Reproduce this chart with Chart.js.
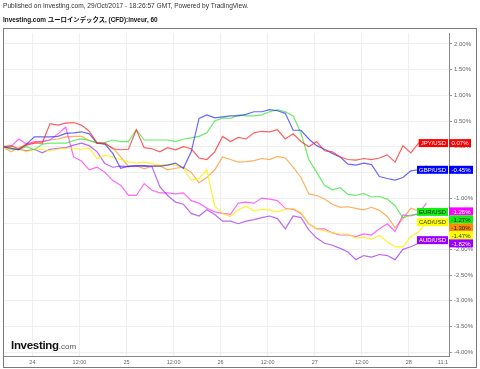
<!DOCTYPE html>
<html><head><meta charset="utf-8">
<script src="https://cdn.jsdelivr.net/npm/chart.js@4/dist/chart.umd.min.js"></script>
<style>
html,body{margin:0;padding:0;background:#fff;width:480px;height:369px;overflow:hidden;}
#wrap{position:relative;width:480px;height:369px;}
canvas{position:absolute;left:0;top:0;}
.t1{position:absolute;left:3px;top:2px;font:6.6px "Liberation Sans",Arial,sans-serif;color:#333;white-space:nowrap;z-index:2;}
.t2{position:absolute;left:3px;top:15px;font:bold 6.4px "Liberation Sans","Noto Sans CJK JP",sans-serif;color:#111;white-space:nowrap;z-index:2;}
.logo{position:absolute;left:11px;top:339px;font:bold 11.5px "Liberation Sans",Arial,sans-serif;color:#111;letter-spacing:-0.3px;z-index:2;white-space:nowrap;}
.logo span{font-weight:normal;font-size:8px;color:#555;letter-spacing:0;}
</style></head>
<body><div id="wrap">
<canvas id="c" width="480" height="369" style="width:480px;height:369px"></canvas>
<div class="t1">Published on Investing.com, 29/Oct/2017 - 18:26:57 GMT, Powered by TradingView.</div>
<div class="t2">Investing.com ユーロインデックス, (CFD):inveur, 60</div>
<div class="logo">Investing<span>.com</span></div>
</div>
<script>
// hours relative to the "24" tick
const hours = [-7.5,-5.5,-3.5,-1.5,0.5,2.5,4.5,6.5,8.5,10.5,12.5,14.5,16.5,18.5,20.5,22.5,24.5,26.5,28.5,30.5,32.5,34.5,36.5,38.5,40.5,42.5,44.5,46.5,48.5,50.5,52.5,54.5,56.5,58.5,60.5,62.5,64.5,66.5,68.5,70.5,72.5,74.5,76.5,78.5,80.5,82.5,84.5,86.5,88.5,90.5,92.5,94.5,96.5,98.5,100.5];

const seriesNames = ['JPY/USD','GBP/USD','EUR/USD','CAD/USD','AUD/USD','',''];

const jpy = [0,0.02,-0.04,0.03,0.07,0.07,0.45,0.42,0.46,0.47,0.42,0.3,0.07,0.07,-0.04,-0.06,-0.05,0.33,-0.02,-0.04,-0.1,-0.02,-0.06,0,-0.04,-0.22,-0.25,-0.1,0.2,0.1,0.18,0.15,0.27,0.3,0.29,0.33,0.15,0.25,0.1,0.0,0.1,-0.08,-0.1,-0.2,-0.25,-0.26,-0.23,-0.25,-0.22,-0.16,-0.3,0.02,-0.12,0.07,0.07];
const gbp = [0,-0.03,-0.06,0.05,0.19,0.19,0.19,0.2,0.26,0.27,0.29,0.25,0.07,0.05,-0.13,-0.42,-0.38,-0.38,-0.37,-0.38,-0.38,-0.36,-0.32,-0.42,-0.1,0.55,0.62,0.56,0.58,0.6,0.6,0.63,0.68,0.68,0.72,0.7,0.65,0.32,0.32,0.15,0.02,-0.05,-0.13,-0.2,-0.34,-0.36,-0.32,-0.35,-0.58,-0.62,-0.65,-0.6,-0.47,-0.45,-0.37];
const eur = [0,-0.05,-0.06,0,-0.06,0.05,0.07,0.07,0.07,0.12,0.15,0.12,0.07,0.08,0.13,0.1,0.1,0.33,0.13,0.13,0.13,0.13,0.1,0.15,0.17,0.2,0.27,0.5,0.56,0.55,0.62,0.6,0.6,0.62,0.68,0.72,0.68,0.6,0.26,-0.25,-0.5,-0.75,-0.84,-0.8,-0.93,-0.95,-0.91,-0.98,-0.97,-1.02,-1.15,-1.39,-1.33,-1.32,-1.27];
const cad = [0,-0.02,-0.05,-0.1,-0.05,-0.05,-0.08,-0.05,-0.03,-0.03,-0.05,-0.03,-0.23,-0.17,-0.2,-0.25,-0.3,-0.32,-0.3,-0.33,-0.36,-0.35,-0.36,-0.42,-0.65,-0.62,-0.45,-1.16,-1.3,-1.36,-1.23,-1.16,-1.25,-1.22,-1.23,-1.27,-1.22,-1.2,-1.28,-1.5,-1.6,-1.64,-1.68,-1.7,-1.7,-1.78,-1.76,-1.8,-1.73,-1.85,-1.95,-1.95,-1.75,-1.66,-1.47];
const aud = [0,-0.03,-0.05,-0.08,-0.05,-0.12,-0.05,-0.03,-0.02,0.03,0.07,0.02,-0.1,-0.33,-0.4,-0.38,-0.39,-0.37,-0.38,-0.39,-0.78,-0.95,-1.08,-1.12,-1.3,-1.35,-1.23,-1.32,-1.45,-1.45,-1.5,-1.45,-1.42,-1.38,-1.35,-1.4,-1.6,-1.35,-1.38,-1.62,-1.78,-1.88,-1.92,-1.98,-2.05,-2.2,-2.12,-2.15,-2.1,-2.12,-2.2,-2.0,-1.95,-1.88,-1.82];
const magenta = [0,0.0,0.15,0.05,0.1,0.1,0.13,0.25,0.38,-0.2,-0.28,-0.45,-0.4,-0.5,-0.66,-0.75,-0.95,-0.95,-0.72,-0.85,-0.9,-0.9,-0.92,-0.9,-1.05,-1.1,-1.2,-1.27,-1.3,-1.32,-1.1,-1.08,-1.1,-1.0,-1.02,-1.05,-1.2,-1.22,-1.3,-1.5,-1.6,-1.6,-1.68,-1.72,-1.72,-1.75,-1.7,-1.72,-1.6,-1.5,-1.65,-1.33,-1.35,-1.3,-1.1];
const orange = [0,-0.1,-0.02,0.05,0.08,0.1,0.13,0.15,0.19,0.2,0.2,0.12,0.08,0.05,-0.02,-0.2,-0.39,-0.37,-0.43,-0.38,-0.37,-0.45,-0.42,-0.4,-0.5,-0.7,-0.6,-0.45,-0.2,-0.25,-0.3,-0.29,-0.27,-0.23,-0.25,-0.19,-0.22,-0.4,-0.6,-0.92,-0.95,-1.02,-1.12,-1.18,-1.17,-1.2,-1.23,-1.18,-1.24,-1.36,-1.58,-1.4,-1.2,-1.25,-1.3];

// last values shown in the right-hand badges
const lastValues = [0.07,-0.45,-1.27,-1.47,-1.82,-1.26,-1.30];

const yTickValues = [2,1.5,1,0.5,0,-0.5,-1,-1.5,-2,-2.5,-3,-3.5,-4];
const xTickValues = [0,12,24,36,48,60,72,84,96,104.7];
const xTickLabels = ['24','12:00','25','12:00','26','12:00','27','12:00','28','11:1'];

const allSeries = [jpy,gbp,eur,cad,aud,magenta,orange];
const lineColors = ['rgba(255,40,40,0.75)','rgba(40,40,255,0.7)','rgba(40,230,40,0.7)','rgba(255,238,0,0.8)','rgba(160,40,240,0.7)','rgba(255,40,255,0.7)','rgba(255,150,40,0.75)'];
const badgeColors = ['#ff0000','#0000ff','#11ee11','#ffff00','#9900ff','#ff00ff','#ff8c00'];
const badgeText = ['#fff','#fff','#222','#333','#fff','#fff','#222'];

const datasets = allSeries.map((arr,i)=>({
  label: seriesNames[i],
  data: arr.map((v,j)=>({x:hours[j],y:v})),
  borderColor: lineColors[i],
  borderWidth: 1.2,
  pointRadius: 0,
  tension: 0,
  fill: false
}));

const fmt = v => v.toFixed(2)+'%';

const overlay = {
  id:'overlay',
  afterDraw(chart){
    const ctx = chart.ctx, ys = chart.scales.y, ca = chart.chartArea;
    ctx.save();
    ctx.strokeStyle = '#7a7a7a'; ctx.lineWidth = 1;
    ctx.beginPath();
    ctx.moveTo(3,28.5); ctx.lineTo(477,28.5);
    ctx.moveTo(3.5,28.5); ctx.lineTo(3.5,367.5);
    ctx.moveTo(3,367.5); ctx.lineTo(477,367.5);
    ctx.moveTo(476.5,28.5); ctx.lineTo(476.5,367.5);
    ctx.stroke();
    ctx.font = '6px "Liberation Sans", Arial, sans-serif';
    ctx.textBaseline = 'middle';
    const h = 8;
    seriesNames.forEach((n,i)=>{
      if(!n) return;
      const y = ys.getPixelForValue(lastValues[i]);
      const w = ctx.measureText(n).width + 4;
      const x1 = ca.right - 1 - w;
      ctx.fillStyle = badgeColors[i];
      ctx.fillRect(x1, y-h/2, w, h);
      ctx.fillStyle = badgeText[i];
      ctx.textAlign = 'left';
      ctx.fillText(n, x1+2, y+0.5);
    });
    const order = lastValues.map((v,i)=>i).sort((a,b)=>lastValues[b]-lastValues[a]);
    let prev = -1e9;
    order.forEach(i=>{
      let y = ys.getPixelForValue(lastValues[i]);
      if (y < prev + h) y = prev + h;
      prev = y;
      const t = fmt(lastValues[i]);
      const w = ctx.measureText(t).width + 5;
      ctx.fillStyle = badgeColors[i];
      ctx.fillRect(ca.right, y-h/2, w, h);
      ctx.fillStyle = badgeText[i];
      ctx.textAlign = 'left';
      ctx.fillText(t, ca.right+2.5, y+0.5);
    });
    ctx.restore();
  }
};

new Chart(document.getElementById('c'), {
  type:'line',
  data:{datasets},
  options:{
    responsive:false, animation:false, devicePixelRatio:1,
    layout:{padding:{left:3,top:33,right:0,bottom:0}},
    plugins:{legend:{display:false}, tooltip:{enabled:false}, title:{display:false}},
    scales:{
      x:{
        type:'linear', min:-7.5, max:106.25,
        afterBuildTicks:s=>{ s.ticks = xTickValues.map(v=>({value:v})); },
        afterFit:s=>{ s.height = 12.3; },
        ticks:{autoSkip:false, maxRotation:0, minRotation:0, padding:2, color:'#666',
          font:{size:5.5, family:'"Liberation Sans", Arial, sans-serif'},
          callback:(v,i)=>xTickLabels[i]},
        grid:{drawTicks:false, lineWidth:1,
          color:c=> (c.tick && c.tick.value>100) ? 'rgba(0,0,0,0)' : '#efefef'},
        border:{color:'#8a8a8a', width:1}
      },
      y:{
        position:'right', min:-4.09, max:2.214,
        afterBuildTicks:s=>{ s.ticks = yTickValues.map(v=>({value:v})); },
        afterFit:s=>{ s.width = 31; },
        ticks:{padding:2, color:'#666', font:{size:6, family:'"Liberation Sans", Arial, sans-serif'},
          callback:v=>fmt(v)},
        grid:{color:'#efefef', lineWidth:1, tickLength:3, tickColor:'#999'},
        border:{color:'#8a8a8a', width:1}
      }
    }
  },
  plugins:[overlay]
});
</script>
</body></html>
